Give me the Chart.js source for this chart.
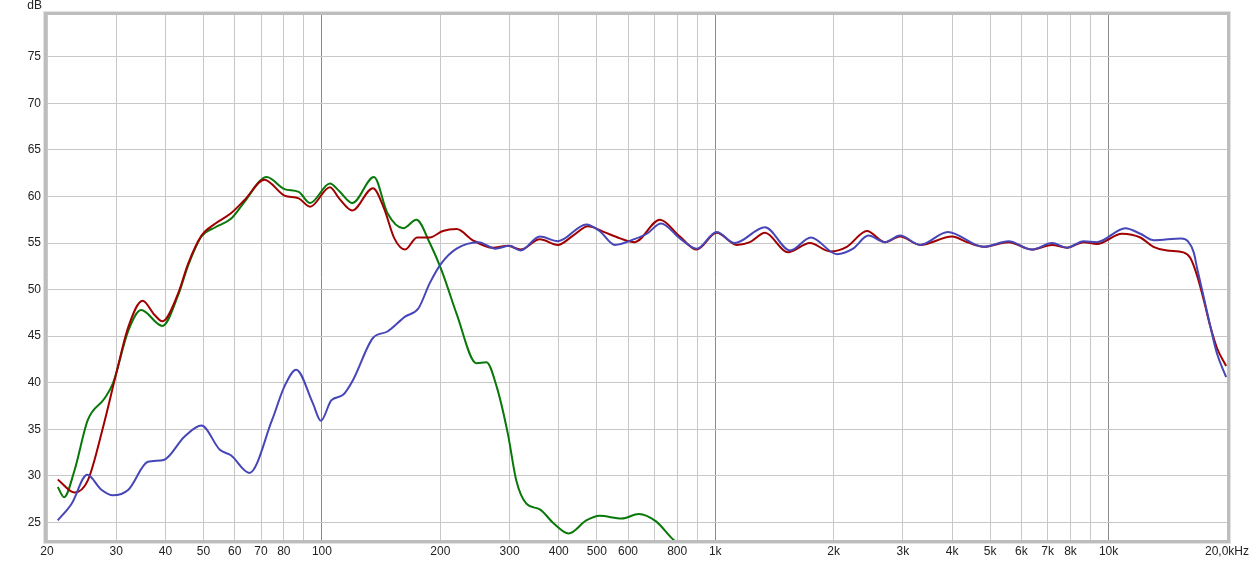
<!DOCTYPE html>
<html>
<head>
<meta charset="utf-8">
<script src="https://cdn.jsdelivr.net/npm/chart.js@4.4.1/dist/chart.umd.min.js"></script>
<style>
  html, body { margin: 0; padding: 0; background: #ffffff; }
  #wrap { width: 1249px; height: 562px; }
</style>
</head>
<body>
<div id="wrap"><canvas id="c" width="1249" height="562"></canvas></div>
<script>
// ---- tick labels ----
const freqTicks  = [20,30,40,50,60,70,80,90,100,200,300,400,500,600,700,800,900,1000,2000,3000,4000,5000,6000,7000,8000,9000,10000,20000];
const freqLabels = ["20","30","40","50","60","70","80","","100","200","300","400","500","600","","800","","1k","2k","3k","4k","5k","6k","7k","8k","","10k","20,0kHz"];
const dbTicks = [25,30,35,40,45,50,55,60,65,70,75];

// ---- red series ----
const redHz = [21.3,23.5,25.4,27.8,30,32.2,35,37.5,39.3,43.1,45.7,49.4,53.6,58.7,63.5,71.4,80.3,87.3,93.3,104.8,110.6,119.5,134.8,143.9,152.8,162.7,174.5,188,203,220,242,272,297,320,358,398,435,475,520,573,624,723,813,897,1008,1134,1225,1338,1530,1740,1960,2160,2430,2700,2950,3320,4000,4360,4810,5570,6380,7180,7840,8640,9340,10820,12040,13000,14080,15500,16140,16790,17450,18150,18870,19900];
const redDb = [29.6,28.2,29.5,35.3,41.0,46.0,48.8,47.3,46.6,49.6,52.8,55.8,57.1,58.2,59.6,61.8,60.1,59.8,58.9,61.0,59.8,58.5,60.9,58.7,55.5,54.3,55.6,55.6,56.3,56.5,55.3,54.5,54.7,54.3,55.4,54.8,55.8,56.8,56.2,55.5,55.1,57.5,55.7,54.3,56.1,54.8,55.1,56.1,54.0,55.0,54.1,54.6,56.3,55.1,55.7,54.8,55.7,55.1,54.6,55.1,54.3,54.8,54.5,55.1,54.9,56.0,55.6,54.6,54.2,54.0,53.4,51.5,48.9,46.0,43.7,41.8];

// ---- green series ----
const greenHz = [21.3,22.1,23.5,25.4,28.0,29.4,32.2,34.7,39.3,43.1,45.7,49.4,53.6,58.7,63.5,72.4,80.3,87.3,93.3,104.8,110.6,119.5,135.6,146.8,161,173.9,188,203,220,247,262,278,297,312,331,358,388,424,470,508,579,639,707,775,800];
const greenDb = [28.8,27.7,30.6,36.0,38.3,39.9,45.6,47.8,46.1,49.4,52.6,55.7,56.7,57.6,59.4,62.1,60.8,60.5,59.3,61.4,60.6,59.3,62.1,58.2,56.6,57.5,55.0,51.7,47.4,42.1,42.2,39.6,34.5,29.5,27.0,26.4,24.9,23.8,25.2,25.7,25.4,25.9,25.1,23.3,22.8];

// ---- blue series ----
const blueHz = [21.3,23.1,25.3,27.5,29.4,32.2,36.1,39.6,44.7,49.4,55,58.7,65.4,74.7,80.3,86,94.8,99.4,105.6,113.2,120,134.8,146.8,162.7,176,188,201,220,250,276,300,320,358,398,470,508,556,620,670,728,813,897,1008,1120,1338,1550,1750,2040,2240,2450,2700,2950,3320,3900,4810,5570,6380,7180,7840,8640,9340,11030,12040,13050,15300,15900,16460,16790,17450,18150,18870,19900];
const blueDb = [25.2,27.0,30.1,28.5,27.9,28.5,31.5,31.7,34.2,35.4,32.8,32.2,30.3,36.0,39.6,41.4,37.8,35.9,38.1,38.7,40.3,44.8,45.5,47.1,48.0,50.7,52.8,54.4,55.1,54.4,54.7,54.2,55.7,55.2,57.0,56.3,54.8,55.4,56.0,57.1,55.5,54.4,56.2,55.0,56.7,54.2,55.6,53.8,54.4,55.8,55.1,55.8,54.8,56.2,54.6,55.2,54.3,55.0,54.5,55.2,55.1,56.6,56.0,55.3,55.5,55.2,54.0,52.3,49.2,46.0,43.1,40.6];

const pts = (xs, ys) => xs.map((x, i) => ({ x: x, y: ys[i] }));
const FONT = { family: "'Liberation Sans', Arial, sans-serif", size: 12 };

const framePlugin = {
  id: 'frame',
  afterDatasetsDraw(chart) {
    const { ctx, chartArea: a } = chart;
    ctx.save();
    ctx.strokeStyle = '#bdbdbd';
    ctx.lineWidth = 3;
    ctx.strokeRect(a.left - 1.5, a.top - 1.5, a.right - a.left + 3, a.bottom - a.top + 3);
    ctx.strokeStyle = '#e2e2e2';
    ctx.lineWidth = 1;
    ctx.strokeRect(a.left - 3.5, a.top - 3.5, a.right - a.left + 7, a.bottom - a.top + 7);
    ctx.fillStyle = '#222';
    ctx.font = "12px 'Liberation Sans', Arial, sans-serif";
    ctx.textAlign = 'right';
    ctx.textBaseline = 'middle';
    ctx.fillText('dB', 42, 6);
    ctx.restore();
  }
};

new Chart(document.getElementById('c'), {
  type: 'line',
  data: {
    datasets: [
      { data: pts(blueHz, blueDb), borderColor: '#4646b8', order: 0 },
      { data: pts(redHz, redDb), borderColor: '#a00000', order: 1 },
      { data: pts(greenHz, greenDb), borderColor: '#087808', order: 2 }
    ]
  },
  options: {
    responsive: false,
    animation: false,
    devicePixelRatio: 1,
    parsing: true,
    layout: { padding: { top: 15, right: 22, left: 0, bottom: 0 } },
    elements: {
      line: { borderWidth: 2, cubicInterpolationMode: 'monotone', fill: false },
      point: { radius: 0, hoverRadius: 0 }
    },
    plugins: { legend: { display: false }, tooltip: { enabled: false } },
    scales: {
      x: {
        type: 'logarithmic',
        min: 20, max: 20000,
        afterBuildTicks: s => { s.ticks = freqTicks.map(v => ({ value: v })); },
        afterFit: s => { s.height = 22; s.paddingLeft = 0; s.paddingRight = 0; },
        border: { display: false },
        grid: {
          drawTicks: false,
          lineWidth: 1,
          color: c => ([100, 1000, 10000].includes(c.tick && c.tick.value) ? '#8a8a8a' : '#c8c8c8')
        },
        ticks: {
          autoSkip: false, maxRotation: 0, minRotation: 0, padding: 4,
          color: '#222', font: FONT,
          callback: (v, i) => freqLabels[i]
        }
      },
      y: {
        type: 'linear',
        min: 23.1, max: 79.5,
        afterBuildTicks: s => { s.ticks = dbTicks.map(v => ({ value: v })); },
        afterFit: s => { s.width = 47; s.paddingTop = 0; s.paddingBottom = 0; },
        border: { display: false },
        grid: { drawTicks: false, lineWidth: 1, color: '#c8c8c8' },
        ticks: { padding: 6, color: '#222', font: FONT, callback: v => String(v) }
      }
    }
  },
  plugins: [framePlugin]
});
</script>
</body>
</html>
